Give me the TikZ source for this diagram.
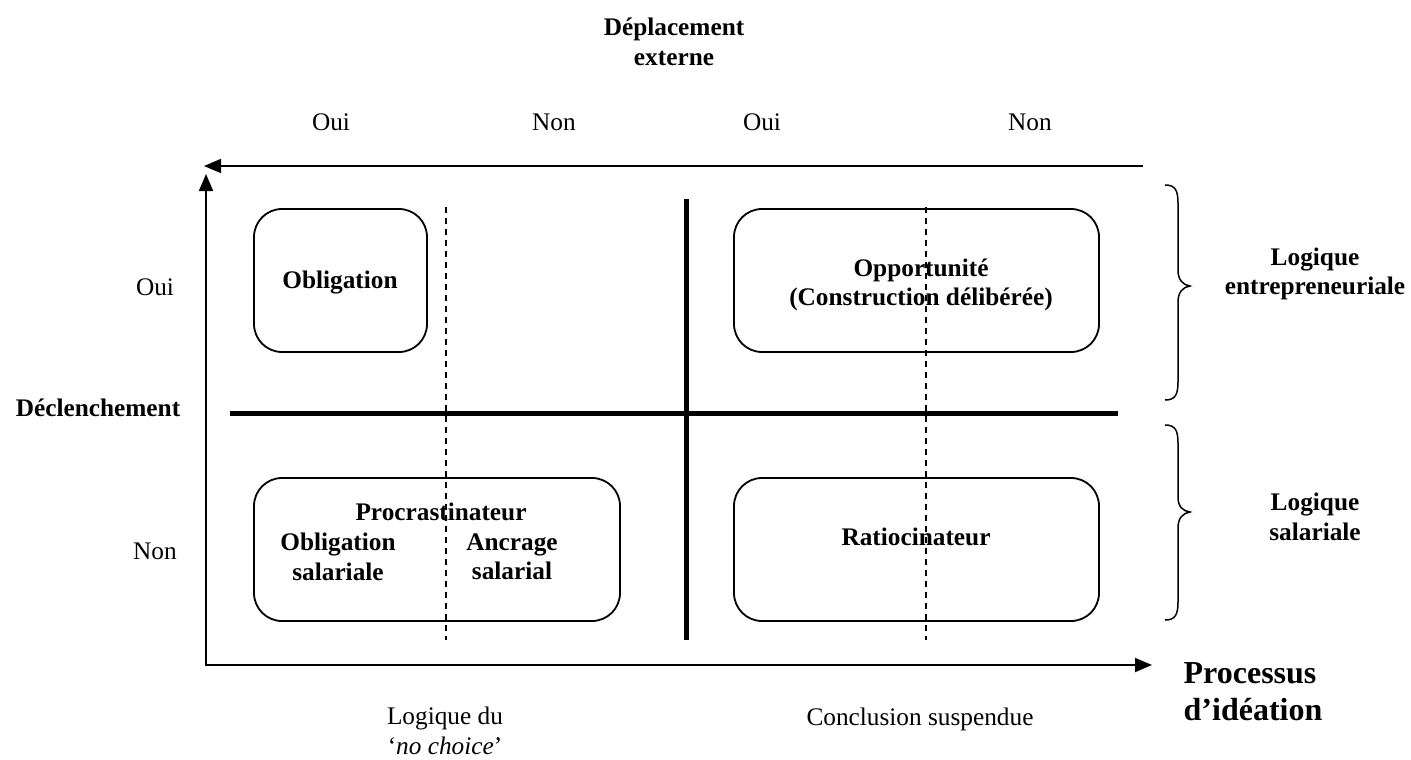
\documentclass[tikz,border=0pt]{standalone}
\usepackage{fontspec}
\setmainfont{Liberation Serif}
\usetikzlibrary{arrows.meta}
\tikzset{
  lbl/.style={inner sep=0pt, align=center, font=\fontsize{25.3}{29.5}\selectfont},
  blbl/.style={lbl, font=\fontsize{25.3}{29.5}\selectfont\bfseries},
  axis/.style={line width=1.8pt, -{Triangle[length=17pt,width=14pt]}},
  thick line/.style={line width=5pt},
  dashline/.style={line width=1.3pt, dash pattern=on 6pt off 5pt},
  rbox/.style={draw, line width=1.8pt, rounded corners=28pt},
  bracepath/.style={line width=1.5pt}
}
\begin{document}
\begin{tikzpicture}[x=1pt,y=-1pt]
\useasboundingbox (0,0) rectangle (1411,760);
% axes
\coordinate (origin) at (206,665);
\coordinate (ytip) at (206,174);
\coordinate (xtip) at (1152,665);
\coordinate (tstart) at (1143,166);
\coordinate (ttip) at (204,166);
\draw[axis] (origin) -- (ytip);
\draw[axis, shorten <=-0.9pt] (origin) -- (xtip);
\draw[axis] (tstart) -- (ttip);
% quadrant lines
\coordinate (hl) at (230,413);
\coordinate (hr) at (1118,413);
\coordinate (vt) at (686,199);
\coordinate (vb) at (686,640);
\draw[thick line] (hl) -- (hr);
\draw[thick line] (vt) -- (vb);
% boxes
\draw[rbox] (254,209) rectangle (427,352);
\draw[rbox] (734,209) rectangle (1099,352);
\draw[rbox] (254,478) rectangle (620,621);
\draw[rbox] (734,478) rectangle (1099,621);
% dashed lines
\coordinate (d1t) at (446,207);
\coordinate (d1b) at (446,640);
\coordinate (d2t) at (926,207);
\coordinate (d2b) at (926,640);
\draw[dashline] (d1t) -- (d1b);
\draw[dashline] (d2t) -- (d2b);
% box texts
\node[blbl] (obl) at (340,283) {Obligation};
\node[blbl] (opp) at (921,285) {Opportunité\\(Construction délibérée)};
\node[blbl] (proc) at (441,512) {Procrastinateur};
\node[blbl] (oblsal) at (338,557) {Obligation\\salariale};
\node[blbl] (ancr) at (512,557) {Ancrage\\salarial};
\node[blbl] (ratio) at (916,537) {Ratiocinateur};
% top labels
\node[blbl] (depl) at (674,42) {Déplacement\\externe};
\node[lbl] (oui1) at (331,122) {Oui};
\node[lbl] (non1) at (554,122) {Non};
\node[lbl] (oui2) at (762,122) {Oui};
\node[lbl] (non2) at (1030,122) {Non};
% left labels
\node[lbl] (ouiL) at (155,287) {Oui};
\node[blbl] (decl) at (98,408) {Déclenchement};
\node[lbl] (nonL) at (155,551) {Non};
% bottom labels
\node[lbl] (nochoice) at (445,731) {Logique du\\`\textit{no choice}'};
\node[lbl] (concl) at (920,719) {Conclusion suspendue};
\node[inner sep=0pt, align=left, font=\fontsize{32}{37}\selectfont\bfseries] (proc2) at (1253,692) {Processus\\d’idéation};
% braces
\draw[bracepath] (1165,185) .. controls (1175,185) and (1178,190) .. (1178,203)
  -- (1178,270) .. controls (1178,280) and (1183,285) .. (1190,286)
  .. controls (1183,287) and (1178,292) .. (1178,302)
  -- (1178,382) .. controls (1178,395) and (1175,400) .. (1165,400);
\draw[bracepath] (1165,425) .. controls (1175,425) and (1178,430) .. (1178,443)
  -- (1178,497) .. controls (1178,507) and (1183,511) .. (1190,512)
  .. controls (1183,513) and (1178,518) .. (1178,528)
  -- (1178,602) .. controls (1178,615) and (1175,620) .. (1165,620);
\node[blbl] (logent) at (1315,274) {Logique\\entrepreneuriale};
\node[blbl] (logsal) at (1315,517) {Logique\\salariale};
\end{tikzpicture}
\end{document}
